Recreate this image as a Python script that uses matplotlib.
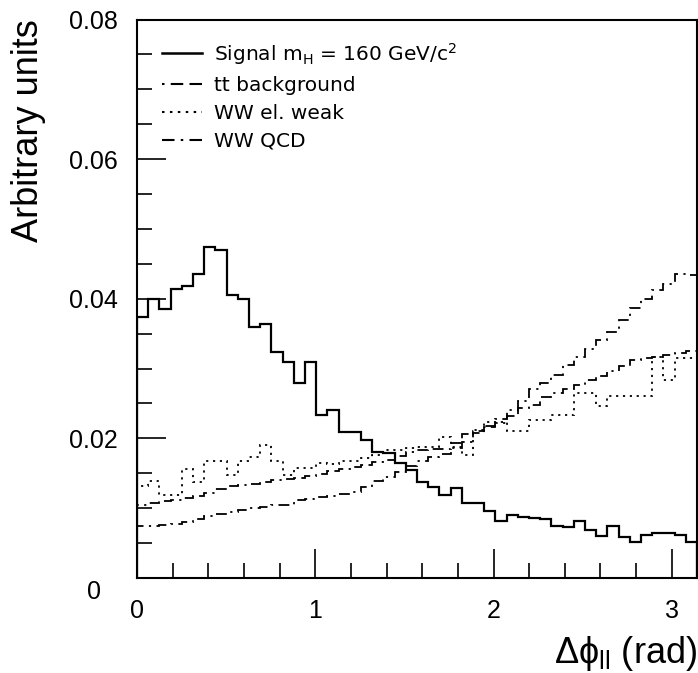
import numpy as np
import matplotlib.pyplot as plt
import matplotlib.transforms as mtransforms
from matplotlib.lines import Line2D
from matplotlib.ticker import MultipleLocator

plt.rcParams["mathtext.fontset"] = "custom"
plt.rcParams["mathtext.rm"] = "Liberation Sans"
plt.rcParams["mathtext.it"] = "Liberation Sans:italic"

# 50 bins between 0 and pi
n_bins = 50
edges = np.linspace(0, np.pi, n_bins + 1)

signal = [0.0374, 0.0400, 0.0386, 0.0414, 0.0418, 0.0436, 0.0474, 0.0470, 0.0405, 0.0399,
          0.0359, 0.0364, 0.0324, 0.0310, 0.0280, 0.0309, 0.0233, 0.0240, 0.0209, 0.0209,
          0.0198, 0.0180, 0.0179, 0.0164, 0.0155, 0.0138, 0.0130, 0.0119, 0.0129, 0.0108,
          0.0107, 0.0096, 0.0081, 0.0090, 0.0088, 0.0086, 0.0085, 0.0075, 0.0073, 0.0081,
          0.0069, 0.0060, 0.0074, 0.0058, 0.0052, 0.0062, 0.0065, 0.0064, 0.0062, 0.0052]

tt_bkg = [0.0105, 0.0107, 0.0110, 0.0112, 0.0115, 0.0118, 0.0122, 0.0128, 0.0132, 0.0133,
          0.0135, 0.0138, 0.0140, 0.0142, 0.0143, 0.0146, 0.0149, 0.0153, 0.0156, 0.0159,
          0.0162, 0.0166, 0.0169, 0.0175, 0.0180, 0.0183, 0.0185, 0.0185, 0.0193, 0.0206,
          0.0211, 0.0216, 0.0222, 0.0232, 0.0244, 0.0248, 0.0259, 0.0265, 0.0270, 0.0277,
          0.0284, 0.0290, 0.0296, 0.0303, 0.0312, 0.0315, 0.0317, 0.0320, 0.0322, 0.0325]

ww_ew = [0.0132, 0.0139, 0.0119, 0.0119, 0.0156, 0.0138, 0.0168, 0.0168, 0.0147, 0.0168,
         0.0174, 0.0190, 0.0167, 0.0147, 0.0158, 0.0158, 0.0165, 0.0163, 0.0168, 0.0168,
         0.0172, 0.0176, 0.0183, 0.0183, 0.0186, 0.0188, 0.0188, 0.0202, 0.0188, 0.0176,
         0.0212, 0.0224, 0.0224, 0.0210, 0.0210, 0.0227, 0.0227, 0.0234, 0.0234, 0.0265,
         0.0265, 0.0246, 0.0260, 0.0260, 0.0260, 0.0260, 0.0317, 0.0284, 0.0315, 0.0315]

ww_qcd = [0.0074, 0.0075, 0.0076, 0.0078, 0.0080, 0.0085, 0.0089, 0.0092, 0.0095, 0.0097,
          0.0100, 0.0102, 0.0104, 0.0105, 0.0111, 0.0113, 0.0116, 0.0118, 0.0120, 0.0123,
          0.0130, 0.0139, 0.0145, 0.0152, 0.0160, 0.0167, 0.0174, 0.0178, 0.0186, 0.0195,
          0.0208, 0.0218, 0.0228, 0.0241, 0.0253, 0.0270, 0.0280, 0.0291, 0.0305, 0.0317,
          0.0328, 0.0341, 0.0353, 0.0369, 0.0387, 0.0399, 0.0412, 0.0421, 0.0436, 0.0434]

labels = [r"Signal m$_{\mathregular{H}}$ = 160 GeV/c$^{\mathregular{2}}$",
          "tt background", "WW el. weak", "WW QCD"]

STYLE_TT = (0, (1.2, 3, 6, 3, 6, 3))
STYLE_EW = (0, (1.2, 2.6))
STYLE_QCD = (0, (6, 3, 1.2, 3))

fig = plt.figure(figsize=(6.98, 6.73), dpi=100)
ax = fig.add_axes([0.1963, 0.1412, 0.8023, 0.8298])

ax.stairs(signal, edges, color="black", linewidth=1.6)
ax.stairs(tt_bkg, edges, color="black", linewidth=1.3, linestyle=STYLE_TT)
ax.stairs(ww_ew, edges, color="black", linewidth=1.3, linestyle=STYLE_EW)
ax.stairs(ww_qcd, edges, color="black", linewidth=1.3, linestyle=STYLE_QCD)

ax.set_xlim(0, np.pi)
ax.set_ylim(0, 0.08)

ax.xaxis.set_minor_locator(MultipleLocator(0.2))
ax.yaxis.set_minor_locator(MultipleLocator(0.005))
ax.set_yticks([0, 0.02, 0.04, 0.06, 0.08])
ax.set_yticklabels(["0", "0.02", "0.04", "0.06", "0.08"])
ax.set_xticks([0, 1, 2, 3])
ax.set_xticklabels(["0", "1", "2", "3"])

ax.tick_params(which="both", direction="in", top=False, right=False,
               labelsize=18, width=1.2, labelfontfamily="Liberation Sans")
ax.tick_params(which="major", length=21)
ax.tick_params(which="minor", length=11)
ax.tick_params(axis="y", pad=14)
ax.tick_params(axis="x", pad=15)
for s in ax.spines.values():
    s.set_linewidth(1.5)

# the "0" on the y axis sits lower and further left in the original
lab0 = ax.get_yticklabels()[0]
lab0.set_transform(lab0.get_transform() +
                   mtransforms.ScaledTranslation(-12 / 72, -8 / 72, fig.dpi_scale_trans))

ax.set_ylabel("Arbitrary units", fontsize=26, family="Liberation Sans",
              loc="top", labelpad=16)
ax.set_xlabel(r"$\mathregular{\Delta\phi_{ll}}$ (rad)", fontsize=26,
              family="Liberation Sans", loc="right", labelpad=8)

handles = [Line2D([], [], color="black", lw=1.8),
           Line2D([], [], color="black", lw=1.5, linestyle=STYLE_TT),
           Line2D([], [], color="black", lw=1.5, linestyle=STYLE_EW),
           Line2D([], [], color="black", lw=1.5, linestyle=STYLE_QCD)]
ax.legend(handles, labels, loc="upper left", bbox_to_anchor=(0.045, 0.962),
          frameon=False, handlelength=2.0, handletextpad=0.55,
          labelspacing=0.45, borderpad=0, borderaxespad=0,
          prop={"family": "DejaVu Sans", "size": 14.5})

fig.savefig("out.png", dpi=100, facecolor="white")
